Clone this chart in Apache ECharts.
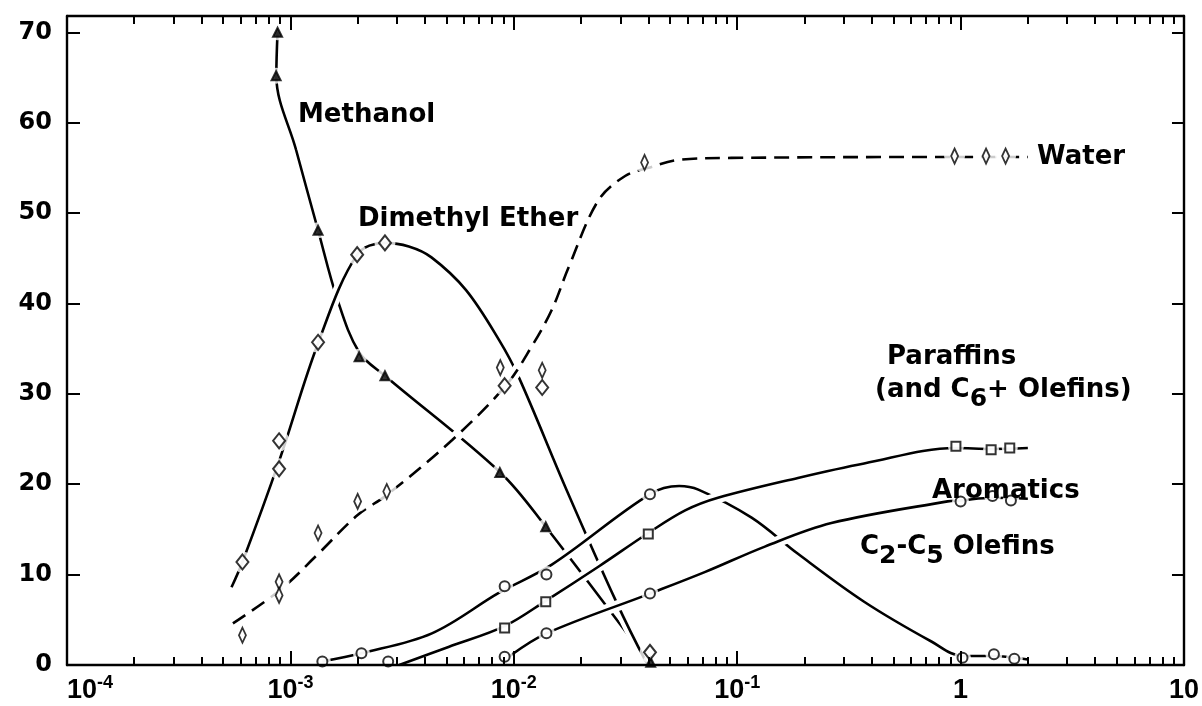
<!DOCTYPE html>
<html><head><meta charset="utf-8">
<script src="https://cdn.jsdelivr.net/npm/echarts@6/dist/echarts.min.js"></script>
<style>html,body{margin:0;padding:0;background:#fff}#c{width:1202px;height:706px}</style>
</head><body><div id="c"></div>
<script>
// ---- tick labels ----
const X_LABEL_BASE = ['10', '10', '10', '10', '1', '10'];
const X_LABEL_SUP = ['-4', '-3', '-2', '-1', '', ''];
const X_MINOR_MULT = [2, 3, 4, 5, 6, 7, 8, 9];
const X_DECADES = [1e-4, 1e-3, 1e-2, 1e-1, 1];
const Y_TICKS = [0, 10, 20, 30, 40, 50, 60, 70];

// ---- data points (markers) ----
const methanolPts = [[8.76e-4,70.0],[8.63e-4,65.2],[1.33e-3,48.1],[2.03e-3,34.1],[2.65e-3,32.0],[8.66e-3,21.3],[1.39e-2,15.3],[4.1e-2,0.3]];
const dmePts = [[6.1e-4,11.4],[8.9e-4,21.7],[8.9e-4,24.8],[1.33e-3,35.7],[1.99e-3,45.4],[2.65e-3,46.7],[9.1e-3,30.9],[1.34e-2,30.7],[4.07e-2,1.4]];
const waterPts = [[6.1e-4,3.3],[8.9e-4,9.2],[8.9e-4,7.7],[1.33e-3,14.6],[2.0e-3,18.1],[2.7e-3,19.2],[8.7e-3,32.9],[1.34e-2,32.6],[3.85e-2,55.6],[0.94,56.3],[1.30,56.3],[1.59,56.3]];
const c2c5Pts = [[1.39e-3,0.4],[2.08e-3,1.3],[9.1e-3,8.7],[1.40e-2,10.0],[4.07e-2,18.9],[1.02,0.8],[1.41,1.2],[1.74,0.7]];
const paraffinPts = [[9.1e-3,4.1],[1.39e-2,7.0],[4.0e-2,14.5],[0.953,24.2],[1.37,23.8],[1.66,24.0]];
const aromaticPts = [[2.74e-3,0.4],[9.1e-3,0.9],[1.40e-2,3.5],[4.07e-2,7.9],[1.0,18.1],[1.39,18.7],[1.68,18.2]];

// ---- fitted curves ----
const methanolCurve = [[8.76e-4,70.0],[8.65e-4,65.2],[1.06e-3,57.0],[1.33e-3,48.1],[1.62e-3,40.5],[2.03e-3,34.6],[2.65e-3,32.0],[8.7e-3,21.3],[1.39e-2,15.3],[4.1e-2,0.0]];
const dmeCurve = [[5.45e-4,8.6],[6.1e-4,11.4],[8.94e-4,22.7],[1.33e-3,35.6],[1.99e-3,45.4],[2.65e-3,46.7],[3.39e-3,46.3],[4.28e-3,45.1],[6.1e-3,41.5],[8.57e-3,36.0],[1.05e-2,31.9],[1.7e-2,19.7],[2.85e-2,7.2],[3.87e-2,0.55],[4.07e-2,0.0]];
const waterCurve = [[5.53e-4,4.6],[9.0e-4,8.3],[1.32e-3,12.2],[2.0e-3,16.6],[2.7e-3,18.8],[5.3e-3,24.9],[9.2e-3,30.9],[1.2e-2,35.2],[1.48e-2,39.3],[1.76e-2,44.0],[2.39e-2,51.4],[3.15e-2,54.1],[4.0e-2,55.0],[5.5e-2,55.9],[9.4e-2,56.1],[0.88,56.2],[2.0,56.2]];
const c2c5Curve = [[1.39e-3,0.4],[2.08e-3,1.3],[4.3e-3,3.5],[8.6e-3,8.0],[1.48e-2,11.1],[4.07e-2,18.9],[5.5e-2,19.8],[6.7e-2,19.4],[0.116,16.3],[0.187,12.3],[0.37,7.0],[0.74,2.6],[1.02,1.0],[1.41,1.0],[2.0,0.6]];
const paraffinCurve = [[3.07e-3,0.0],[5.1e-3,2.0],[9.1e-3,4.3],[1.39e-2,7.1],[2.4e-2,10.9],[4.0e-2,14.6],[5.85e-2,17.1],[8.2e-2,18.5],[0.187,20.7],[0.37,22.3],[0.95,24.0],[1.37,23.9],[2.0,24.0]];
const aromaticCurve = [[9.6e-3,1.0],[1.40e-2,3.5],[4.07e-2,7.9],[7.2e-2,10.3],[0.133,13.1],[0.264,15.7],[0.875,18.1],[1.0,18.2],[1.39,18.5],[2.0,18.4]];

const X_MINOR = [];
X_DECADES.forEach(d => X_MINOR_MULT.forEach(m => X_MINOR.push(+(m * d).toPrecision(3))));

const FONT = '"DejaVu Sans", sans-serif';
const XFONT = '"Liberation Sans", Arial, sans-serif';
const chart = echarts.init(document.getElementById('c'), null, {renderer: 'canvas'});

// each curve gets its own layer; a white halo under it cuts the curves of lower layers
function curve(data, level, dashed) {
  return [
    {type: 'line', data, smooth: 0.35, symbol: 'none', silent: true, zlevel: level, z: 1,
     lineStyle: {color: '#fff', width: 11}},
    {type: 'line', data, smooth: 0.35, symbol: 'none', silent: true, zlevel: level, z: 2,
     lineStyle: {color: '#000', width: 2.6, type: dashed ? [15, 8] : 'solid'}}
  ];
}
function markers(data, symbol, size, filled) {
  const hs = Array.isArray(size) ? Math.max(size[0], size[1]) + 6 : size + 7;
  return [
    {type: 'scatter', data, symbol: 'circle', symbolSize: hs, silent: true, zlevel: 7, z: 1,
     itemStyle: {color: '#fff', borderWidth: 0}},
    {type: 'scatter', data, symbol, symbolSize: size, silent: true, zlevel: 7, z: 2,
     itemStyle: {color: filled ? '#000' : '#fff', borderColor: '#000', borderWidth: 2}}
  ];
}

const xCommon = {type: 'log', logBase: 10, min: 1e-4, max: 10, splitNumber: 5, zlevel: 8, z: 1,
  splitLine: {show: false}, minorTick: {show: false}};
const lineStyleAxis = {show: true, lineStyle: {color: '#000', width: 2.4}};

function txt(x, y, text) {
  return {type: 'text', x, y, silent: true, zlevel: 8, z: 5,
    style: {text: '{m|' + text.replace(/\{sub\|(\w)\}/g, '}{sub|$1}{m|') + '}',
      align: 'left', verticalAlign: 'middle', textAlign: 'left', textVerticalAlign: 'middle',
      fill: '#000',
      rich: {
        m: {fontFamily: FONT, fontWeight: 'bold', fontSize: 26, lineHeight: 44, fill: '#000', color: '#000'},
        sub: {fontFamily: FONT, fontWeight: 'bold', fontSize: 25, lineHeight: 26, verticalAlign: 'bottom', fill: '#000', color: '#000'}
      }}};
}

const option = {
  backgroundColor: '#fff',
  animation: false,
  grid: {left: 67, right: 15, top: 16, bottom: 41, containLabel: false},
  xAxis: [
    Object.assign({}, xCommon, {position: 'bottom', axisLine: lineStyleAxis,
      axisTick: {show: true, inside: true, length: 14, lineStyle: {color: '#000', width: 2}},
      axisLabel: {show: true, margin: 9, color: '#000', alignMinLabel: 'left',
        formatter: v => {
          const i = Math.round(Math.log10(v)) + 4;
          return X_LABEL_SUP[i] ? '{b|' + X_LABEL_BASE[i] + '}{s|' + X_LABEL_SUP[i] + '}' : '{b|' + X_LABEL_BASE[i] + '}';
        },
        rich: {
          b: {fontFamily: XFONT, fontWeight: 'bold', fontSize: 27, lineHeight: 34, color: '#000'},
          s: {fontFamily: XFONT, fontWeight: 'bold', fontSize: 18, lineHeight: 18, verticalAlign: 'top', color: '#000'}
        }}}),
    Object.assign({}, xCommon, {position: 'bottom', axisLine: {show: false},
      axisTick: {show: true, inside: true, length: 8, customValues: X_MINOR, lineStyle: {color: '#000', width: 2}},
      axisLabel: {show: false}}),
    Object.assign({}, xCommon, {position: 'top', axisLine: lineStyleAxis,
      axisTick: {show: true, inside: true, length: 14, lineStyle: {color: '#000', width: 2}},
      axisLabel: {show: false}}),
    Object.assign({}, xCommon, {position: 'top', axisLine: {show: false},
      axisTick: {show: true, inside: true, length: 8, customValues: X_MINOR, lineStyle: {color: '#000', width: 2}},
      axisLabel: {show: false}})
  ],
  yAxis: [
    {type: 'value', min: 0, max: 71.8, position: 'left', zlevel: 8, z: 1, splitLine: {show: false},
     axisLine: lineStyleAxis,
     axisTick: {show: true, inside: true, length: 13, customValues: Y_TICKS, lineStyle: {color: '#000', width: 2}},
     axisLabel: {show: true, customValues: Y_TICKS, margin: 15, color: '#000',
       fontFamily: FONT, fontWeight: 'bold', fontSize: 24}},
    {type: 'value', min: 0, max: 71.8, position: 'right', zlevel: 8, z: 1, splitLine: {show: false},
     axisLine: lineStyleAxis,
     axisTick: {show: true, inside: true, length: 12, customValues: Y_TICKS, lineStyle: {color: '#000', width: 2}},
     axisLabel: {show: false}}
  ],
  series: [].concat(
    curve(methanolCurve, 1, false),
    curve(dmeCurve, 2, false),
    curve(c2c5Curve, 3, false),
    curve(waterCurve, 4, true),
    curve(aromaticCurve, 5, false),
    curve(paraffinCurve, 6, false),
    markers(methanolPts, 'triangle', 9, true),
    markers(dmePts, 'diamond', [12, 15], false),
    markers(waterPts, 'diamond', [7, 15], false),
    markers(c2c5Pts, 'circle', 10, false),
    markers(paraffinPts, 'rect', 9, false),
    markers(aromaticPts, 'circle', 10, false)
  ),
  graphic: [
    txt(298, 115, 'Methanol'),
    txt(358, 219, 'Dimethyl Ether'),
    txt(1037, 157, 'Water'),
    txt(887, 357, 'Paraffins'),
    txt(875, 390, '(and C{sub|6}+ Olefins)'),
    txt(932, 491, 'Aromatics'),
    txt(860, 547, 'C{sub|2}-C{sub|5} Olefins')
  ]
};

option.series.forEach(s => { s.xAxisIndex = 0; s.yAxisIndex = 0; });
chart.setOption(option);
</script></body></html>
